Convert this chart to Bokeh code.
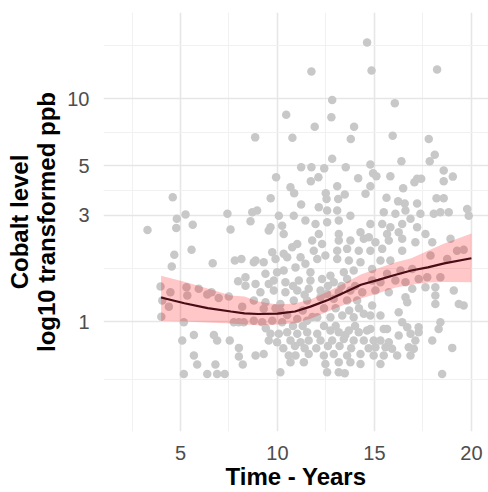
from bokeh.plotting import figure
from bokeh.models import Range1d, FixedTicker, NumeralTickFormatter
from bokeh.embed import file_html
from bokeh.resources import INLINE

# ---- data: time (years) and cobalt (log10 ppb) ----
years_a = [14.62, 11.75, 14.85, 18.23, 12.82, 16.05, 10.45, 12.78,
           11.92, 13.95, 8.85, 10.77, 13.78, 15.94, 17.80,
           12.82, 16.39, 18.11, 17.85, 11.22, 11.75, 12.41, 13.52, 14.79,
           9.93, 11.72, 12.11, 14.16, 14.93, 15.10, 15.82, 17.06, 17.20, 17.41, 18.57, 19.04, 18.57,
           10.67, 10.86, 13.08, 14.79, 16.48,
           9.65, 12.49, 12.53, 13.13, 13.47, 14.54, 15.62, 16.22, 16.56, 17.20, 18.20, 18.57, 11.22]
log_a = [1.252, 1.121, 1.126, 1.130, 0.994, 0.979, 0.927, 0.916,
         0.874, 0.874, 0.826, 0.824, 0.819, 0.833, 0.819,
         0.730, 0.719, 0.748, 0.719, 0.692, 0.692, 0.687, 0.692, 0.704,
         0.647, 0.629, 0.647, 0.643, 0.665, 0.652, 0.652, 0.625, 0.640, 0.640, 0.677, 0.650, 0.629,
         0.602, 0.575, 0.607, 0.607, 0.598,
         0.553, 0.575, 0.550, 0.550, 0.570, 0.573, 0.555, 0.539, 0.530, 0.530, 0.553, 0.553, 0.525]

years_b = [4.60, 5.26, 4.81, 3.30, 4.78, 5.63, 7.42, 8.70, 8.61, 7.58,
           4.68, 5.57, 4.55, 6.66, 7.80, 8.14, 8.35, 7.97, 8.35, 8.78]
log_b = [0.557, 0.480, 0.461, 0.411, 0.420, 0.434, 0.483, 0.490, 0.450, 0.413,
         0.300, 0.322, 0.247, 0.261, 0.274, 0.281, 0.199, 0.181, 0.161, 0.266]

years_c = [3.97, 4.48, 5.31, 5.94, 6.60, 5.35, 4.06, 4.40, 4.01, 6.38, 6.97, 7.49, 8.18,
           5.17, 7.75, 8.01, 8.26,
           5.09, 5.69, 6.72, 6.89, 7.54, 8.01, 8.01, 5.69, 5.86, 6.80, 8.21, 5.17, 6.38, 6.89, 7.28]
log_c = [0.157, 0.131, 0.154, 0.147, 0.131, 0.117, 0.094, 0.067, 0.022, 0.121, 0.106, 0.112, 0.067,
         -0.003, -0.003, -0.003, -0.003,
         -0.085, -0.060, -0.060, -0.085, -0.085, -0.118, -0.157, -0.152, -0.193, -0.193, -0.193,
         -0.235, -0.235, -0.235, -0.235]

years_d = [12.13, 12.56, 13.08, 13.76,
           8.95, 10.07, 10.84, 11.44, 11.96, 12.56, 13.16,
           9.64, 10.24, 9.55, 12.13, 13.16, 14.28, 10.32,
           11.02, 10.76, 11.79, 12.30, 13.16, 13.76, 14.45,
           9.73, 10.32, 11.87, 13.08, 13.59, 14.19,
           8.87, 9.29, 9.90, 10.50, 11.19, 12.05, 12.47, 13.08, 13.68, 14.28,
           9.38, 9.98, 10.32, 10.93, 11.44, 11.70, 12.73, 13.42, 13.93,
           8.87, 9.55, 9.81, 10.41, 11.10, 11.70, 12.30, 12.90, 13.59,
           9.12, 9.81, 10.41, 11.02, 11.61, 12.22]
log_d = [0.513, 0.498, 0.498, 0.475,
         0.498, 0.475, 0.475, 0.453, 0.438, 0.445, 0.453,
         0.423, 0.430, 0.408, 0.393, 0.393, 0.400, 0.393,
         0.348, 0.333, 0.363, 0.348, 0.363, 0.363, 0.371,
         0.311, 0.304, 0.318, 0.318, 0.326, 0.318,
         0.274, 0.266, 0.281, 0.288, 0.288, 0.281, 0.296, 0.281, 0.274, 0.266,
         0.214, 0.221, 0.229, 0.243, 0.259, 0.221, 0.206, 0.221, 0.229,
         0.169, 0.169, 0.184, 0.176, 0.184, 0.184, 0.191, 0.176, 0.191,
         0.131, 0.139, 0.131, 0.139, 0.147, 0.139]

years_e = [12.56, 13.16, 13.76, 14.37,
           8.78, 9.38, 10.15, 10.84, 11.53, 12.22, 12.90, 13.59, 14.11,
           9.29, 10.15,
           8.78, 9.21, 9.73, 10.24, 11.02, 11.53, 12.05, 12.73, 13.34, 13.93, 14.45,
           9.64, 10.07, 10.50, 11.02, 11.53, 12.05, 12.73, 13.16, 13.68, 14.19, 14.62,
           9.55, 9.98, 10.67, 11.19, 11.61, 12.22, 12.82, 13.42, 13.93, 14.45,
           8.87, 9.29, 10.58, 10.93, 11.61, 12.39, 12.90, 13.59, 14.28,
           10.67, 11.36, 12.47, 13.16, 13.76, 14.28,
           10.15, 12.56, 13.16, 13.47]
log_e = [0.124, 0.131, 0.139, 0.131,
         0.094, 0.087, 0.079, 0.094, 0.094, 0.109, 0.102, 0.094, 0.094,
         0.057, 0.049,
         0.004, -0.003, 0.004, -0.003, 0.012, 0.004, 0.019, 0.019, 0.027, 0.019, 0.035,
         -0.055, -0.055, -0.048, -0.055, -0.048, -0.055, -0.040, -0.048, -0.040, -0.048, -0.040,
         -0.085, -0.093, -0.085, -0.093, -0.085, -0.085, -0.085, -0.078, -0.085, -0.085,
         -0.152, -0.145, -0.152, -0.152, -0.145, -0.152, -0.145, -0.152, -0.145,
         -0.182, -0.182, -0.190, -0.182, -0.182, -0.190,
         -0.227, -0.227, -0.227, -0.232]

years_f = [16.60, 16.08, 15.48, 18.06, 18.40, 18.83, 19.78, 19.86, 17.37,
           14.79, 15.40, 15.82, 16.43, 16.86, 15.65, 16.25, 17.20, 17.63,
           14.71, 15.05, 15.74, 16.43, 17.11, 17.98, 18.92,
           14.79, 15.40, 16.43, 17.89, 18.75, 19.26, 19.60,
           15.31, 15.82, 14.88, 15.65, 16.34, 16.95, 17.28, 17.72, 18.40,
           14.88, 15.31, 16.08, 16.60, 16.95, 17.63, 18.14, 19.09, 15.05, 15.74]
log_f = [0.498, 0.483, 0.490, 0.483, 0.490, 0.490, 0.505, 0.475, 0.483,
         0.438, 0.438, 0.423, 0.438, 0.461, 0.393, 0.400, 0.423, 0.393,
         0.378, 0.356, 0.363, 0.371, 0.356, 0.356, 0.371,
         0.318, 0.326, 0.318, 0.296, 0.281, 0.318, 0.322,
         0.274, 0.274, 0.236, 0.214, 0.229, 0.236, 0.191, 0.199, 0.199,
         0.184, 0.176, 0.184, 0.176, 0.147, 0.154, 0.154, 0.139, 0.139, 0.131]

years_g = [16.60, 16.69, 18.14, 18.14, 19.35, 19.60, 14.88, 16.25,
           14.79, 15.31, 16.43, 16.69, 17.28, 17.28, 15.48, 15.65, 14.79, 18.40,
           18.31, 16.25, 16.86, 17.98, 17.11, 14.96, 15.31, 15.74,
           15.05, 15.57, 15.91, 16.77, 17.03, 19.01,
           14.96, 15.48, 16.17, 16.86, 15.31, 18.49]
log_g = [0.109, 0.087, 0.117, 0.079, 0.079, 0.072, 0.072, 0.042,
         0.027, 0.027, -0.003, -0.026, -0.026, -0.048, -0.033, -0.033, -0.033, -0.003,
         -0.033, -0.063, -0.055, -0.085, -0.085, -0.085, -0.085, -0.093,
         -0.115, -0.115, -0.122, -0.115, -0.122, -0.118,
         -0.152, -0.152, -0.152, -0.152, -0.190, -0.235]

# overlapping points in the densest central cluster (estimated)
years_h = [9.90, 10.50, 11.30, 11.80, 12.40, 13.00, 13.70, 14.20,
           9.40, 10.80, 11.30, 12.40, 13.00, 13.50, 14.00,
           10.30, 10.90, 11.40, 12.00, 12.60, 13.20, 13.80, 14.70,
           10.80, 11.40, 12.60, 13.30, 14.00]
log_h = [0.060, 0.030, 0.050, 0.020, 0.060, 0.060, 0.050, 0.060,
         -0.030, -0.020, -0.020, -0.020, -0.020, -0.060, -0.020,
         -0.120, -0.110, -0.120, -0.120, -0.110, -0.110, -0.120, -0.120,
         0.160, 0.120, 0.160, 0.160, 0.160]

# smoothed fit (log10 ppb) with confidence band
smooth_years = [4.0, 5.2, 6.4, 7.6, 8.3, 9.0, 10.0, 10.9, 11.7, 12.6, 13.45,
                14.3, 15.2, 16.05, 16.9, 17.75, 18.6, 20.0]
smooth_fit = [0.108, 0.082, 0.060, 0.045, 0.037, 0.034, 0.036, 0.045, 0.067, 0.097, 0.130,
              0.165, 0.187, 0.209, 0.229, 0.243, 0.261, 0.284]
smooth_lower = [0.002, 0.000, -0.004, -0.009, -0.013, -0.016, -0.013, -0.007, 0.013, 0.045, 0.075,
                0.103, 0.127, 0.152, 0.165, 0.175, 0.177, 0.176]
smooth_upper = [0.205, 0.179, 0.148, 0.117, 0.112, 0.090, 0.076, 0.081, 0.099, 0.135, 0.172,
                0.211, 0.239, 0.265, 0.284, 0.318, 0.350, 0.395]

x_ticks = [5, 10, 15, 20]
x_minor = [2.5, 7.5, 12.5, 17.5]
y_ticks = [1, 3, 5, 10]
y_minor = [0.5477, 1.732, 3.873, 7.071, 17.32]

xs, ys = [], []
for yr, lg in [(years_a, log_a), (years_b, log_b), (years_c, log_c), (years_d, log_d),
               (years_e, log_e), (years_f, log_f), (years_g, log_g), (years_h, log_h)]:
    for a, b in zip(yr, lg):
        xs.append(a)
        ys.append(10 ** b)

FONT = "Liberation Sans"

p = figure(width=488, height=492, output_backend="svg", toolbar_location=None,
           y_axis_type="log",
           x_range=Range1d(1.03, 20.88), y_range=Range1d(10 ** -0.493, 10 ** 1.386),
           min_border_left=103, min_border_right=0, min_border_top=12, min_border_bottom=61)
p.outline_line_color = None
p.background_fill_color = "white"
p.border_fill_color = "white"

p.xaxis.ticker = FixedTicker(ticks=x_ticks, minor_ticks=x_minor)
p.yaxis.ticker = FixedTicker(ticks=y_ticks, minor_ticks=y_minor)
p.yaxis.formatter = NumeralTickFormatter(format="0")

for g in (p.xgrid, p.ygrid):
    g.grid_line_color = "#e6e6e6"
    g.grid_line_width = 1.6
    g.minor_grid_line_color = "#f1f1f1"
    g.minor_grid_line_width = 1

for ax in (p.xaxis, p.yaxis):
    ax.axis_line_color = None
    ax.major_tick_line_color = None
    ax.minor_tick_line_color = None
    ax.major_label_text_font = FONT
    ax.major_label_text_font_size = "20px"
    ax.major_label_text_color = "#4d4d4d"
    ax.axis_label_text_font = FONT
    ax.axis_label_text_font_size = "24px"
    ax.axis_label_text_font_style = "bold"
    ax.axis_label_text_color = "black"

p.xaxis.axis_label = "Time - Years"
p.yaxis.axis_label = "Cobalt level\nlog10 transformed ppb"
p.yaxis.axis_label_text_line_height = 1.0
p.xaxis.major_label_standoff = 8
p.xaxis.axis_label_standoff = 0
p.yaxis.major_label_standoff = 8
p.yaxis.axis_label_standoff = 4

p.scatter(xs, ys, size=8.5, fill_color="#c8c8c8", line_color=None)

band_lo = [10 ** v for v in smooth_lower]
band_hi = [10 ** v for v in smooth_upper]
fit = [10 ** v for v in smooth_fit]
p.varea(x=smooth_years, y1=band_lo, y2=band_hi, fill_color="#ff0000", fill_alpha=0.22)
p.line(smooth_years, fit, line_color="#4a0c16", line_width=2.2)

open("out.html", "w").write(file_html(p, INLINE))
